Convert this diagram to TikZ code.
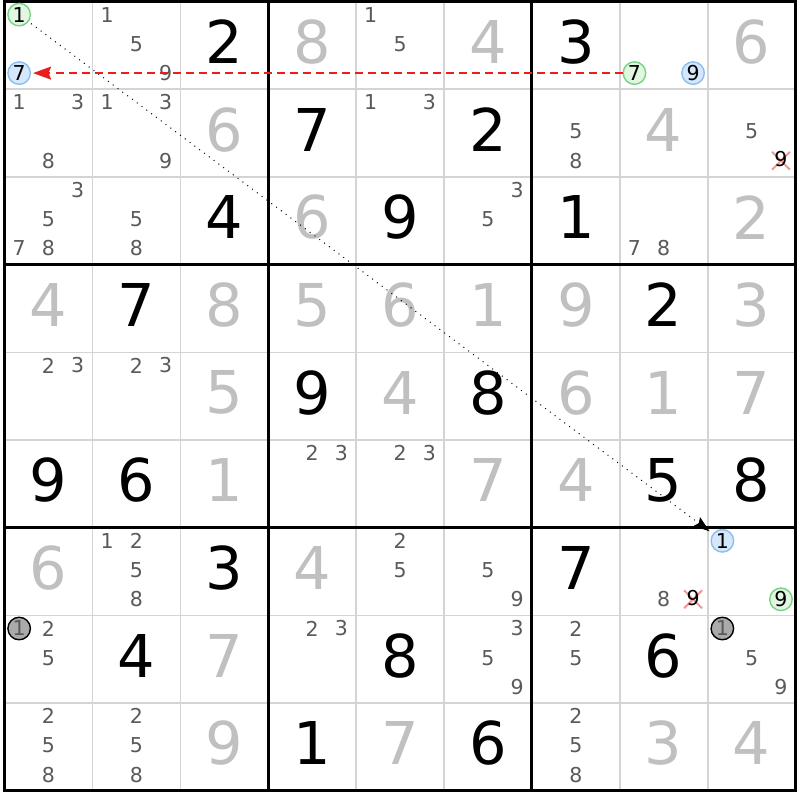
\documentclass[tikz,border=0pt]{standalone}
\usepackage{fontspec}
\setmainfont{DejaVu Sans}
\usetikzlibrary{arrows.meta,shapes.misc,calc}
\definecolor{solvedgray}{RGB}{192,192,192}
\definecolor{candgray}{RGB}{90,90,90}
\definecolor{gridgray}{RGB}{212,212,212}
\definecolor{ringgreen}{RGB}{120,210,130}
\definecolor{ringgreenfill}{RGB}{226,247,226}
\definecolor{ringblue}{RGB}{140,190,240}
\definecolor{ringbluefill}{RGB}{213,232,251}
\definecolor{ringdarkfill}{RGB}{170,170,170}
\definecolor{crossred}{RGB}{245,150,150}
\definecolor{linkred}{RGB}{235,30,30}

\begin{document}
\begin{tikzpicture}[
x=87.9pt,y=-87.7pt,
given/.style={
  inner sep=0pt,
  text=black,
  yshift=3.5pt,
  font=\fontsize{59}{59}\selectfont},
solved/.style={
  given,
  text=solvedgray},
cand/.style={
  inner sep=0pt,
  text=candgray,
  yshift=1.5pt,
  font=\fontsize{20.5}{20.5}\selectfont},
ring/.style={
  cand,
  circle,
  draw,
  line width=1.4pt,
  minimum size=22.5pt,
  text=black},
greenring/.style={ring, draw=ringgreen, fill=ringgreenfill},
bluering/.style={ring, draw=ringblue, fill=ringbluefill},
darkring/.style={ring, draw=black, fill=ringdarkfill, text=candgray},
crossx/.style={
  cross out,
  draw=crossred,
  line width=2pt,
  minimum size=16pt,
  inner sep=0pt,
  yshift=1.5pt},
chainline/.style={
  line width=1pt,
  dash pattern=on 1pt off 5pt,
  shorten <=3pt,
  shorten >=4pt,
  -{Stealth[length=16pt,width=11pt,inset=2.5pt]}},
linkline/.style={
  draw=linkred,
  line width=1.5pt,
  dash pattern=on 8pt off 5pt,
  shorten >=2pt,
  -{Stealth[length=18pt,width=13pt,inset=2.5pt,fill=linkred]}}
]
\useasboundingbox (-4.5pt,1.5pt) rectangle (795.5pt,-798.5pt);
\fill[white] (-4.5pt,1.5pt) rectangle (795.5pt,-798.5pt);
% grid
\foreach \i in {1,2,4,5,7,8} {
  \draw[gridgray, line width=1.6pt] (\i,0) -- (\i,9);
  \draw[gridgray, line width=1.6pt] (0,\i) -- (9,\i);
}
\foreach \i in {0,3,6,9} {
  \draw[black, line width=3pt] (\i,-0.015) -- (\i,9.015);
  \draw[black, line width=3pt] (-0.015,\i) -- (9.015,\i);
}
% givens and solved cells
\foreach \r/\c/\d in {1/3/2,1/7/3,2/4/7,2/6/2,3/3/4,3/5/9,3/7/1,4/2/7,4/8/2,
  5/4/9,5/6/8,6/1/9,6/2/6,6/8/5,6/9/8,7/3/3,7/7/7,8/2/4,8/5/8,8/8/6,9/4/1,9/6/6}
  \node[given] (V\r\c) at (\c-0.5,\r-0.5) {\d};
\foreach \r/\c/\d in {1/4/8,1/6/4,1/9/6,2/3/6,2/8/4,3/4/6,3/9/2,4/1/4,4/3/8,
  4/4/5,4/5/6,4/6/1,4/7/9,4/9/3,5/3/5,5/5/4,5/7/6,5/8/1,5/9/7,6/3/1,6/6/7,
  6/7/4,7/1/6,7/4/4,8/3/7,9/3/9,9/5/7,9/8/3,9/9/4}
  \node[solved] (V\r\c) at (\c-0.5,\r-0.5) {\d};
% candidates
\foreach \r/\c/\d in {1/2/1,1/2/5,1/2/9,1/5/1,1/5/5,2/1/1,2/1/3,2/1/8,
  2/2/1,2/2/3,2/2/9,2/5/1,2/5/3,2/7/5,2/7/8,2/9/5,3/1/3,3/1/5,3/1/7,3/1/8,
  3/2/5,3/2/8,3/6/3,3/6/5,3/8/7,3/8/8,5/1/2,5/1/3,5/2/2,5/2/3,6/4/2,6/4/3,
  6/5/2,6/5/3,7/2/1,7/2/2,7/2/5,7/2/8,7/5/2,7/5/5,7/6/5,7/6/9,7/8/8,
  8/1/2,8/1/5,8/4/2,8/4/3,8/6/3,8/6/5,8/6/9,8/7/2,8/7/5,8/9/5,8/9/9,
  9/1/2,9/1/5,9/1/8,9/2/2,9/2/5,9/2/8,9/7/2,9/7/5,9/7/8}
  \node[cand] (P\r\c\d) at ({\c-1+(mod(\d-1,3)+0.5)/3},{\r-1+(floor((\d-1)/3)+0.5)/3}) {\d};
% eliminated
\foreach \r/\c/\d in {2/9/9,7/8/9} {
  \node[crossx] (X\r\c\d) at ({\c-1+(mod(\d-1,3)+0.5)/3},{\r-1+(floor((\d-1)/3)+0.5)/3}) {};
  \node[cand, text=black] (P\r\c\d) at (X\r\c\d) {\d};
}
% marked candidates
\foreach \r/\c/\d/\s in {1/1/1/greenring,1/8/7/greenring,7/9/9/greenring,
  1/1/7/bluering,1/8/9/bluering,7/9/1/bluering,8/1/1/darkring,8/9/1/darkring}
  \node[\s] (P\r\c\d) at ({\c-1+(mod(\d-1,3)+0.5)/3},{\r-1+(floor((\d-1)/3)+0.5)/3}) {\d};
% links
\draw[chainline] (P111) -- (P791);
\draw[linkline] (P187) -- (P117);
\end{tikzpicture}
\end{document}
